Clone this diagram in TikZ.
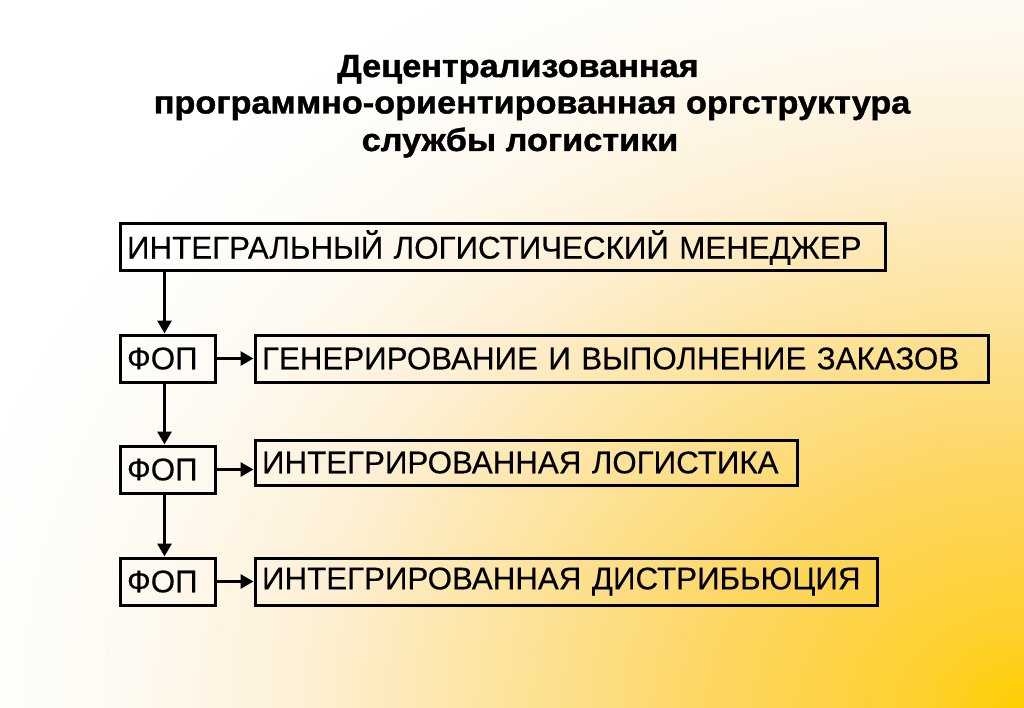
\documentclass[tikz,border=0pt]{standalone}
\usepackage{fontspec}
\setmainfont{Liberation Sans}
\newfontfamily\titlefont[FakeStretch=1.07,FakeBold=1.2]{Liberation Sans Bold}
\newfontfamily\boxfont[FakeBold=0.3]{Liberation Sans}
\usetikzlibrary{arrows.meta}
\definecolor{bgA}{RGB}{255,206,0}
\definecolor{bgB}{RGB}{254,208,48}
\definecolor{bgC}{RGB}{253,214,96}
\definecolor{bgD}{RGB}{253,226,152}
\definecolor{bgE}{RGB}{253,240,214}
\definecolor{bgF}{RGB}{254,250,242}
\pgfdeclareradialshading{bgshade}{\pgfpointorigin}{%
  color(0bp)=(bgA); color(2.5bp)=(bgB); color(7bp)=(bgC); color(11.5bp)=(bgD);
  color(16.5bp)=(bgE); color(20.5bp)=(bgF); color(25bp)=(white); color(50bp)=(white)}
\tikzset{
  box/.style={draw=black, line width=3pt, anchor=north west, align=left,
    inner xsep=7pt, inner ysep=0pt, font=\boxfont\fontsize{31.3}{36}\selectfont},
  titletext/.style={anchor=base, inner sep=0pt, font=\titlefont\fontsize{32}{36}\selectfont},
  arr/.style={line width=3pt, -{Triangle[length=13pt,width=14pt]}}
}
\begin{document}
\begin{tikzpicture}[x=1pt,y=-1pt]
\useasboundingbox (0,0) rectangle (1024,708);
\fill[white] (0,0) rectangle (1024,708);
\begin{scope}
\clip (0,0) rectangle (1024,708);
\shade[shading=bgshade] (1024,708) ellipse [x radius=1100, y radius=850];
\end{scope}

\node[titletext] (t1) at (518,77) {Децентрализованная};
\node[titletext] (t2) at (532,113.5) {программно-ориентированная оргструктура};
\node[titletext] (t3) at (520,151) {службы логистики};

\node[box, minimum width=765pt, minimum height=47pt, text width=751pt] (mgr) at (118.5,222.5) {ИНТЕГРАЛЬНЫЙ ЛОГИСТИЧЕСКИЙ МЕНЕДЖЕР};
\node[box, minimum width=95pt, minimum height=47pt, text width=81pt] (fop1) at (118.5,333.5) {ФОП};
\node[box, minimum width=733pt, minimum height=47pt, text width=719pt] (gen) at (253.5,333.5) {ГЕНЕРИРОВАНИЕ И ВЫПОЛНЕНИЕ ЗАКАЗОВ};
\node[box, minimum width=95pt, minimum height=47pt, text width=81pt] (fop2) at (118.5,444.5) {ФОП};
\node[box, minimum width=542pt, minimum height=45pt, text width=528pt] (ilog) at (253.5,438.5) {ИНТЕГРИРОВАННАЯ ЛОГИСТИКА};
\node[box, minimum width=95pt, minimum height=47pt, text width=81pt] (fop3) at (118.5,556.5) {ФОП};
\node[box, minimum width=622pt, minimum height=47pt, text width=608pt] (dist) at (253.5,556.5) {ИНТЕГРИРОВАННАЯ ДИСТРИБЬЮЦИЯ};

\draw[arr] ([xshift=-3pt]fop1.north |- mgr.south) -- ([xshift=-3pt]fop1.north);
\draw[arr] ([xshift=-3pt]fop1.south) -- ([xshift=-3pt]fop2.north);
\draw[arr] ([xshift=-3pt]fop2.south) -- ([xshift=-3pt]fop3.north);
\draw[arr] (fop1.east) -- (fop1.east -| gen.west);
\draw[arr] (fop2.east) -- (fop2.east -| ilog.west);
\draw[arr] (fop3.east) -- (fop3.east -| dist.west);
\end{tikzpicture}
\end{document}
